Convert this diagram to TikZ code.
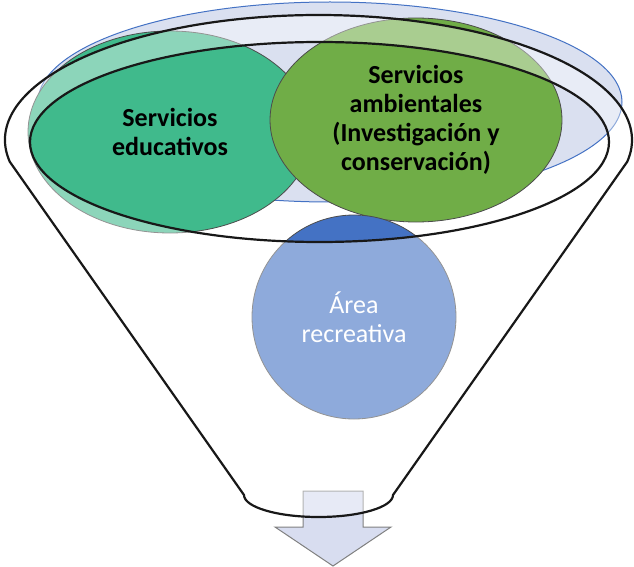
\documentclass[tikz,border=0pt]{standalone}
\usepackage{fontspec}
\setmainfont{Carlito}
\usepackage{tikz}
\usetikzlibrary{shapes.geometric, calc}
\definecolor{tealc}{RGB}{64,186,140}
\definecolor{greenc}{RGB}{112,173,71}
\definecolor{bluec}{RGB}{68,114,196}
\definecolor{backc}{RGB}{218,224,240}
\definecolor{arrowc}{RGB}{216,221,240}
\definecolor{rimc}{RGB}{24,24,24}
\tikzstyle{bubble} = [ellipse, draw=black!70, line width=0.8pt, text centered, align=center, font=\fontsize{26}{29}\selectfont\bfseries]
\tikzstyle{backdisc} = [ellipse, draw=bluec, line width=1pt, fill=backc]
\tikzstyle{glass} = [fill=white, fill opacity=0.4, even odd rule]
\tikzstyle{rim} = [draw=rimc, line width=2.2pt]
\tikzstyle{outarrow} = [draw=black!50, line width=1pt, fill=arrowc]

\begin{document}
\begin{tikzpicture}[x=1pt, y=-1pt]
		\useasboundingbox (0,0) rectangle (634,567);
		\node (back) [backdisc, minimum width=584pt, minimum height=200pt] at (330,102) {};
		\node (edu) [bubble, fill=tealc, minimum width=284pt, minimum height=202pt] at (170,132) {Servicios\\educativos};
		\node (amb) [bubble, fill=greenc, minimum width=292pt, minimum height=204pt] at (416,120) {Servicios\\ambientales\\(Investigación y\\conservación)};
		\node (rec) [bubble, circle, fill=bluec, minimum size=204pt, text=white, font=\fontsize{26}{29}\selectfont] at (354,317) {Área\\recreativa};
		
		\coordinate (rim) at (318.5,140);
		\coordinate (mouth) at (319.5,142);
		\coordinate (neckR) at (393,495);
		
		\draw [outarrow] (303,491) -- (363,491) -- (363,527) -- (391,527) -- (333,566) -- (275,527) -- (303,527) -- cycle;
		
		\filldraw [glass, rim] ($(rim)+(190:313.5pt and 125pt)$) arc[start angle=190, end angle=-10, x radius=313.5pt, y radius=125pt] -- (neckR) arc[start angle=0, end angle=-180, x radius=74.5pt, y radius=22pt] -- cycle (mouth) ellipse[x radius=289.5pt, y radius=100pt];
	\end{tikzpicture}
\end{document}
